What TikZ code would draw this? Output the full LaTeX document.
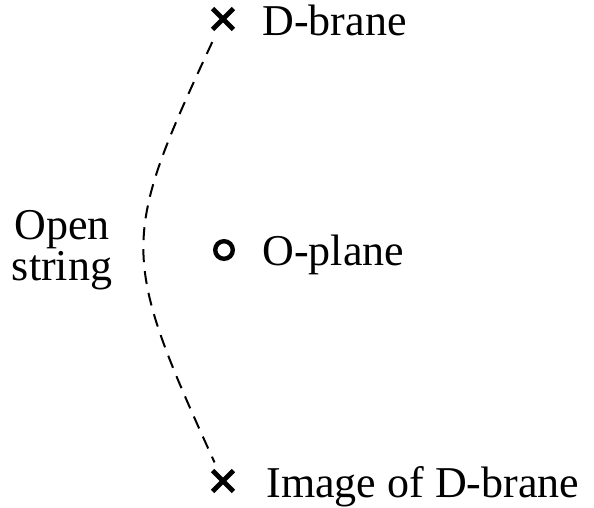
\documentclass[tikz,border=0pt]{standalone}
\usepackage{fontspec}
\setmainfont{Liberation Serif}
\usetikzlibrary{shapes.misc, positioning}
\tikzset{
  brane/.style={
    cross out,
    draw=black,
    line width=2.4pt,
    minimum size=8pt,
    inner sep=0pt
  },
  oplane/.style={
    circle,
    draw=black,
    line width=2.2pt,
    minimum size=8.8pt,
    inner sep=0pt
  },
  tag/.style={
    anchor=base west,
    inner sep=0pt,
    font=\fontsize{22}{19}\selectfont
  },
  openstr/.style={line width=1pt, dash pattern=on 6.5pt off 4.5pt}
}

\begin{document}
\begin{tikzpicture}[x=0.5pt, y=-0.5pt]
    \useasboundingbox (0,0) rectangle (594,508);
    \node (dbrane) [brane] at (223,19) {};
    \node (orient) [oplane] at (224,250) {};
    \node (image) [brane] at (223,481) {};
    \node (dbranetag) [tag] at (262,36) {D-brane};
    \node (orienttag) [tag] at (262,265) {O-plane};
    \node (imagetag) [tag] at (266,497) {Image of D-brane};
    \node (stringtag) [tag, anchor=base, align=center] at (62,280) {Open\\string};
    \draw[openstr, shorten <=7pt, shorten >=4.5pt]
      (dbrane) .. controls (120,240) and (120,255) .. (image);
\end{tikzpicture}
\end{document}
